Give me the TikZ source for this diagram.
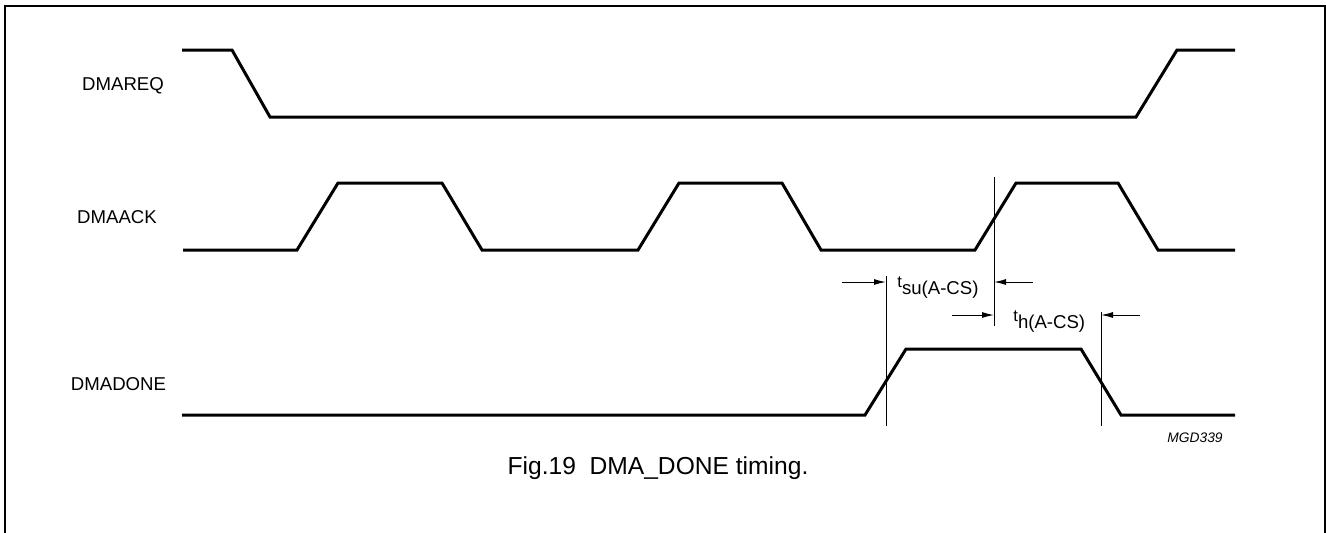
\documentclass[tikz,border=0pt]{standalone}
\usepackage{fontspec}
\setmainfont{Liberation Sans}
\usetikzlibrary{arrows.meta}
\newcommand{\siglnode}[4]{\node[font=\fontsize{9.3}{11}\selectfont] (#1) at (#2,#3) {#4};}
\tikzset{
  wave/.style={line width=1.5pt},
  markline/.style={line width=0.5pt},
  tarrow/.style={line width=0.5pt,-{Latex[length=6pt,width=3pt]}},
  tlabel/.style={anchor=base west,inner sep=0pt,font=\fontsize{9.3}{11}\selectfont}
}
\newcommand{\tsmall}{\fontsize{8.3}{9}\selectfont}

\begin{document}
\begin{tikzpicture}[x=0.5pt,y=-0.5pt]
        \useasboundingbox (0,0) rectangle (1326,532);
        %frame
        \draw[line width=0.75pt] (5,6) rectangle (1325,560);
        %signal names
        \siglnode{req}{123}{86}{DMAREQ}
        \siglnode{ack}{117}{217}{DMAACK}
        \siglnode{done}{118.5}{384}{DMADONE}
        %waveforms
        \draw[wave] (182,50) -- (232,50) -- (270,117) -- (1136,117) -- (1177,50) -- (1235,50);
        \draw[wave] (183,250) -- (297,250) -- (338,183) -- (442,183) -- (482,250) -- (638,250) -- (679,183) -- (782,183)
                    -- (821,250) -- (975,250) -- (1016,183) -- (1118,183) -- (1158,250) -- (1235,250);
        \draw[wave] (182,415) -- (865,415) -- (906,349) -- (1081,349) -- (1121,415) -- (1235,415);
        %marker lines
        \coordinate (sutop) at (886,276);
        \coordinate (subot) at (886,426);
        \coordinate (acktop) at (994,177);
        \coordinate (ackbot) at (994,326);
        \coordinate (htop) at (1101,312);
        \coordinate (hbot) at (1101,426);
        \draw[markline] (sutop) -- (subot);
        \draw[markline] (acktop) -- (ackbot);
        \draw[markline] (htop) -- (hbot);
        %arrows
        \coordinate (sua) at (842,282);
        \coordinate (sub) at (886,282);
        \coordinate (suc) at (1033,282);
        \coordinate (sud) at (994,282);
        \coordinate (ha) at (952,315);
        \coordinate (hb) at (994,315);
        \coordinate (hc) at (1140,315);
        \coordinate (hd) at (1101,315);
        \draw[tarrow] (sua) -- (sub);
        \draw[tarrow] (suc) -- (sud);
        \draw[tarrow] (ha) -- (hb);
        \draw[tarrow] (hc) -- (hd);
        %timing labels
        \node[tlabel] (tsu) at (897,294) {\raisebox{3.3pt}{\tsmall t}su(A-CS)};
        \node[tlabel] (th) at (1013,328) {\raisebox{3.3pt}{\tsmall t}h(A-CS)};
        %code and caption
        \node[anchor=east,inner sep=0pt,font=\fontsize{6.9}{8}\selectfont\itshape] (code) at (1223,438) {MGD339};
        \node[font=\fontsize{12.3}{14}\selectfont] (cap) at (658,468) {Fig.19\ \ DMA\_DONE timing.};
\end{tikzpicture}
\end{document}
